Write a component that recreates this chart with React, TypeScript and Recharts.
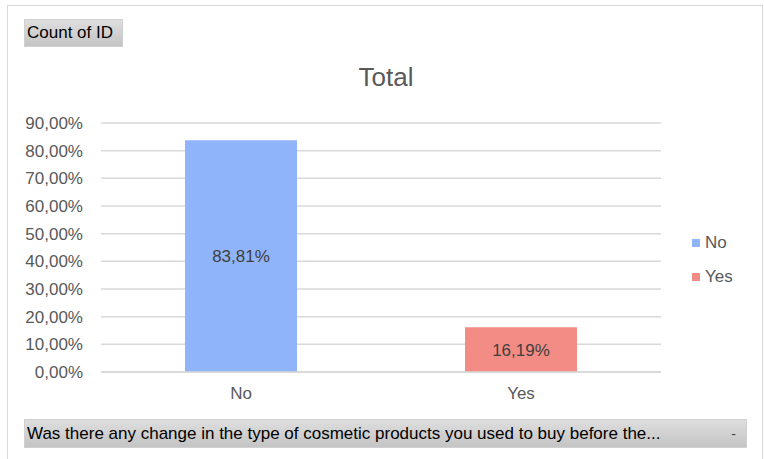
import { BarChart, Bar, XAxis, YAxis, CartesianGrid, LabelList } from "recharts";

const categories = ["No", "Yes"];
const shares = [83.81, 16.19];
const seriesColors = ["#8fb4f9", "#f38c84"];
const yTicks = [0, 10, 20, 30, 40, 50, 60, 70, 80, 90];
const title = "Total";
const filterLabel = "Count of ID";
const axisFieldLabel =
  "Was there any change in the type of cosmetic products you used to buy before the...";

// one row per category, value only under its own key so each bar is its own series
const data = categories.map((c, i) => ({ name: c, [c]: shares[i] }));

const fmt = (v: number) => `${v.toFixed(2).replace(".", ",")}%`;

const FONT = "'Liberation Sans', Arial, sans-serif";

const buttonStyle: React.CSSProperties = {
  position: "absolute",
  background: "linear-gradient(#dedede, #c4c4c4)",
  border: "1px solid #d0d0d0",
  boxSizing: "border-box",
  fontFamily: FONT,
  fontSize: 17,
  color: "#000",
  display: "flex",
  alignItems: "center",
  paddingLeft: 2,
  whiteSpace: "nowrap",
};

export default function App() {
  return (
    <div
      style={{
        position: "absolute",
        left: 0,
        top: 0,
        width: 764,
        height: 459,
        background: "#fff",
        overflow: "hidden",
      }}
    >
      <div
        style={{
          position: "absolute",
          left: 7,
          top: 5,
          width: 756,
          height: 470,
          border: "1px solid #d9d9d9",
          boxSizing: "border-box",
        }}
      />
      <div
        style={{
          position: "absolute",
          left: 0,
          width: 772,
          top: 62,
          textAlign: "center",
          fontFamily: FONT,
          fontSize: 26,
          color: "#595959",
        }}
      >
        {title}
      </div>
      <BarChart
        width={764}
        height={459}
        data={data}
        margin={{ top: 123, right: 103, bottom: 57, left: 0 }}
        barCategoryGap="30%"
        style={{ position: "absolute", left: 0, top: 0 }}
      >
        <CartesianGrid vertical={false} stroke="#d9d9d9" strokeWidth={1.5} />
        <XAxis
          dataKey="name"
          height={30}
          axisLine={{ stroke: "#d9d9d9", strokeWidth: 1.5 }}
          tickLine={false}
          tickSize={6}
          tickMargin={9}
          tick={{ fill: "#595959", fontSize: 17, fontFamily: FONT }}
        />
        <YAxis
          width={101}
          domain={[0, 90]}
          ticks={yTicks}
          tickFormatter={fmt}
          axisLine={false}
          tickLine={false}
          tickSize={6}
          tickMargin={12}
          interval={0}
          tick={{ fill: "#595959", fontSize: 17, fontFamily: FONT }}
        />
        {categories.map((c, i) => (
          <Bar key={c} dataKey={c} stackId="a" fill={seriesColors[i]} isAnimationActive={false}>
            <LabelList
              dataKey={c}
              position="center"
              formatter={(v: any) => (v == null ? "" : fmt(Number(v)))}
              style={{ fill: "#404040", fontSize: 17, fontFamily: FONT }}
            />
          </Bar>
        ))}
      </BarChart>
      <div style={{ position: "absolute", left: 692, top: 226, fontFamily: FONT }}>
        {categories.map((c, i) => (
          <div
            key={c}
            style={{ display: "flex", alignItems: "center", height: 34, fontSize: 17, color: "#595959" }}
          >
            <span
              style={{
                width: 8,
                height: 8,
                background: seriesColors[i],
                marginRight: 5,
                display: "inline-block",
              }}
            />
            {c}
          </div>
        ))}
      </div>
      <div style={{ ...buttonStyle, left: 24, top: 19, width: 99, height: 28 }}>{filterLabel}</div>
      <div style={{ ...buttonStyle, left: 24, top: 419, width: 723, height: 29 }}>
        <span style={{ flex: 1 }}>{axisFieldLabel}</span>
        <span style={{ fontSize: 14, marginRight: 10, color: "#444" }}>-</span>
      </div>
    </div>
  );
}
